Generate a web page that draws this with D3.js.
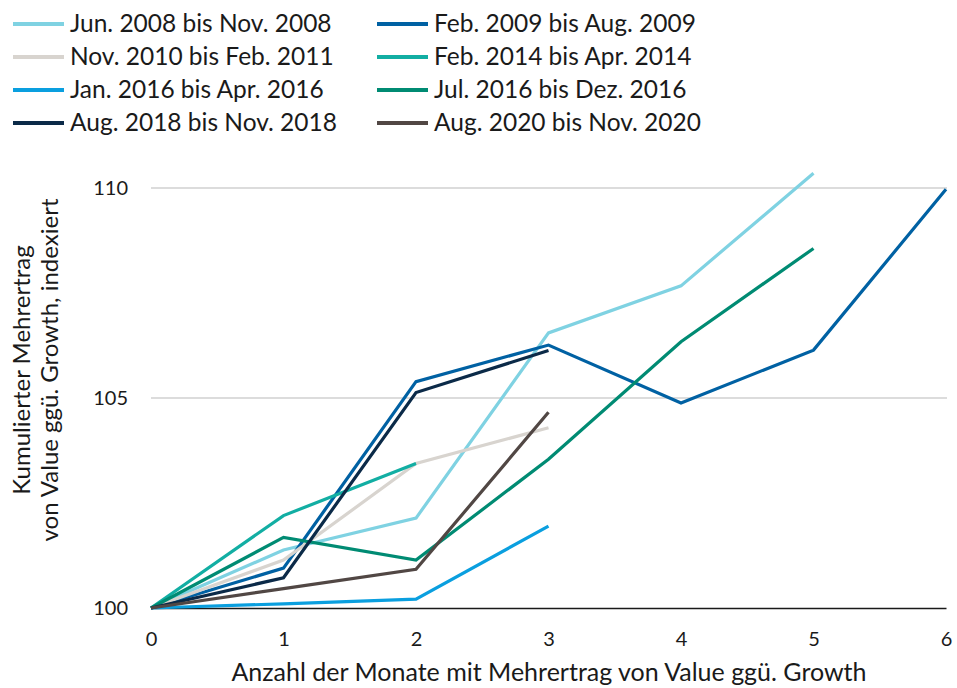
<!DOCTYPE html>
<html><head><meta charset="utf-8">
<script src="https://cdn.jsdelivr.net/npm/d3@7"></script>
<style>body{margin:0;background:#fff}svg{display:block}text{font-family:Lato,"Open Sans",sans-serif;fill:#1a1a1a}</style>
</head><body>
<svg id="c" width="957" height="688"></svg>
<script>
const months = [0,1,2,3,4,5,6];
const seriesNames = ["Jun. 2008 bis Nov. 2008","Feb. 2009 bis Aug. 2009","Nov. 2010 bis Feb. 2011","Feb. 2014 bis Apr. 2014","Jan. 2016 bis Apr. 2016","Jul. 2016 bis Dez. 2016","Aug. 2018 bis Nov. 2018","Aug. 2020 bis Nov. 2020"];
const seriesColors = ["#7fd2e2","#0061a3","#d8d4cf","#12aea3","#0a9fdf","#008b73","#0b2a48","#514744"];
const jun2008 = [100,101.38,102.14,106.55,107.67,110.35];
const feb2009 = [100,100.95,105.39,106.26,104.88,106.14,109.97];
const nov2010 = [100,101.14,103.44,104.29];
const feb2014 = [100,102.2,103.44];
const jan2016 = [100,100.1,100.21,101.95];
const jul2016 = [100,101.68,101.14,103.54,106.34,108.56];
const aug2018 = [100,100.72,105.13,106.13];
const aug2020 = [100,100.46,100.92,104.66];
const seriesValues = [jun2008,feb2009,nov2010,feb2014,jan2016,jul2016,aug2018,aug2020];
const yTicks = [100,105,110];
const xLabel = "Anzahl der Monate mit Mehrertrag von Value ggü. Growth";
const yLabel = ["Kumulierter Mehrertrag","von Value ggü. Growth, indexiert"];

const svg = d3.select("#c");
const x = d3.scaleLinear().domain([0,6]).range([151,946]);
const y = d3.scaleLinear().domain([100,110]).range([608,188]);

// gridlines
svg.append("g").selectAll("line").data(yTicks.filter(d=>d>100)).join("line")
  .attr("x1",151).attr("x2",947).attr("y1",d=>y(d)).attr("y2",d=>y(d))
  .attr("stroke","#d0d0d0").attr("stroke-width",1.5);

// y axis labels
const ya = svg.append("g").attr("transform","translate(151,0)")
  .call(d3.axisLeft(y).tickValues(yTicks).tickSize(0).tickPadding(23));
ya.select(".domain").remove();
ya.selectAll("text").attr("font-size",20).attr("font-family","Lato").attr("fill","#1a1a1a");

// x axis
const xa = svg.append("g").attr("transform","translate(0,608)")
  .call(d3.axisBottom(x).tickValues(months).tickSize(0).tickPadding(24).tickFormat(d3.format("d")));
xa.select(".domain").attr("stroke","#1a1a1a").attr("stroke-width",1.5);
xa.selectAll("text").attr("font-size",20).attr("font-family","Lato").attr("fill","#1a1a1a");

// lines
const line = d3.line().x((d,i)=>x(months[i])).y(d=>y(d));
svg.append("g").selectAll("path").data(seriesValues).join("path")
  .attr("d",d=>line(d)).attr("fill","none")
  .attr("stroke",(d,i)=>seriesColors[i]).attr("stroke-width",3.2)
  .attr("stroke-linejoin","miter");

// axis titles
svg.append("text").attr("x",549).attr("y",681).attr("text-anchor","middle")
  .attr("font-size",25).text(xLabel);
const yt = svg.append("text").attr("transform","translate(30,370) rotate(-90)")
  .attr("text-anchor","middle").attr("font-size",24);
yt.selectAll("tspan").data(yLabel).join("tspan").attr("x",0).attr("dy",(d,i)=>i?28:0).text(d=>d);

// legend
const lg = svg.append("g");
const items = lg.selectAll("g").data(seriesNames).join("g")
  .attr("transform",(d,i)=>`translate(${i%2? 377:13},${24+Math.floor(i/2)*33})`);
items.append("line").attr("x1",0).attr("x2",51).attr("y1",0).attr("y2",0)
  .attr("stroke",(d,i)=>seriesColors[i]).attr("stroke-width",4);
items.append("text").attr("x",57).attr("y",0).attr("dy","0.34em").attr("font-size",24.5).text(d=>d);
</script>
</body></html>
